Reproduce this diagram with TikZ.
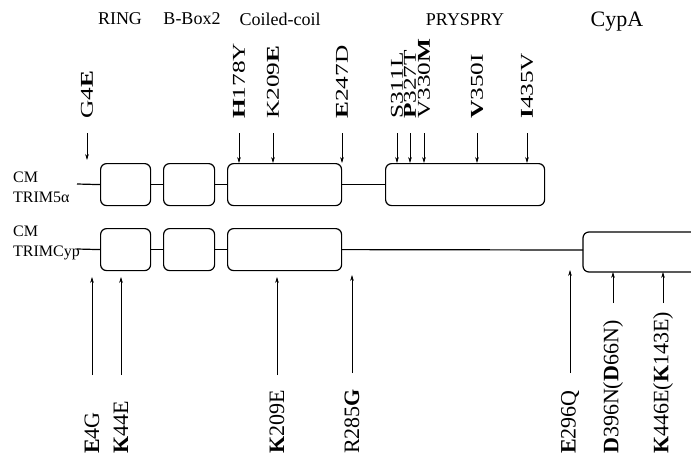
\documentclass[tikz,border=0pt]{standalone}
\usepackage{graphicx}
\usepackage{fontspec}
\setmainfont{Liberation Serif}
\usetikzlibrary{arrows.meta}
\newcommand{\tlab}[1]{\scalebox{1.15}[0.82]{#1}}
\begin{document}
\begin{tikzpicture}[x=1pt,y=-1pt,
  dom/.style={draw, line width=1.2pt, rounded corners=6pt, fill=white, inner sep=0pt, anchor=north west},
  bb/.style={line width=1.2pt},
  arr/.style={line width=0.6pt, -{Stealth[length=6pt,width=3.6pt]}},
  mut/.style={rotate=90, anchor=west, inner sep=0pt, font=\fontsize{22}{24}\selectfont},
  hdr/.style={inner sep=0pt, font=\fontsize{18}{20}\selectfont},
  side/.style={inner sep=0pt, anchor=west, align=left, font=\fontsize{16}{20}\selectfont}
]
\useasboundingbox (0,0) rectangle (691,461);

% headers
\node[hdr] (hring) at (120,19) {RING};
\node[hdr] (hbbox) at (192,19) {B-Box2};
\node[hdr] (hcc) at (280,19) {Coiled-coil};
\node[hdr] (hspry) at (465,20) {PRYSPRY};
\node[hdr, font=\fontsize{22}{24}\selectfont] (hcyp) at (617,22) {CypA};

% side labels
\node[side] (t5lab) at (13,187) {CM\\TRIM5α};
\node[side] (tclab) at (13,243) {CM\\TRIMCyp};

% ---------- TRIM5alpha row ----------
\coordinate (s1) at (77,184);
\node[dom, minimum width=50pt, minimum height=42pt] (r1) at (100,163) {};
\node[dom, minimum width=51pt, minimum height=42pt] (b1) at (163,163) {};
\node[dom, minimum width=114pt, minimum height=42pt] (c1) at (227,163) {};
\node[dom, minimum width=159pt, minimum height=42pt] (p1) at (385,163) {};
\draw[bb] (s1) -- (r1.west);
\draw[bb] (r1.east) -- (b1.west);
\draw[bb] (b1.east) -- (c1.west);
\draw[bb] (c1.east) -- (p1.west);

% top mutations
\node[mut] (m1) at (87,119) {\tlab{G4\textbf{E}}};
\node[mut] (m2) at (239,119) {\tlab{\textbf{H}178Y}};
\node[mut] (m3) at (273,119) {\tlab{K209\textbf{E}}};
\node[mut] (m4) at (342,119) {\tlab{\textbf{E}247D}};
\node[mut] (m5) at (397,119) {\tlab{S311L}};
\node[mut] (m6) at (410,119) {\tlab{\textbf{P}327T}};
\node[mut] (m7) at (424,119) {\tlab{V330\textbf{M}}};
\node[mut] (m8) at (477,119) {\tlab{\textbf{V}350I}};
\node[mut] (m9) at (527,119) {\tlab{\textbf{I}435V}};

\coordinate (e1) at (87,160);
\coordinate (e2) at (239,163);
\coordinate (e3) at (273,163);
\coordinate (e4) at (342,163);
\coordinate (e5) at (397,163);
\coordinate (e6) at (410,163);
\coordinate (e7) at (424,163);
\coordinate (e8) at (477,163);
\coordinate (e9) at (527,163);
\foreach \i in {1,...,9} {
  \draw[arr] (m\i.west) ++(0,14) -- (e\i);
}

% ---------- TRIMCyp row ----------
\coordinate (s2) at (77,249);
\node[dom, minimum width=50pt, minimum height=42pt] (r2) at (100,228) {};
\node[dom, minimum width=51pt, minimum height=42pt] (b2) at (163,228) {};
\node[dom, minimum width=114pt, minimum height=42pt] (c2) at (227,228) {};
\coordinate (cy) at (583,250);
\draw[bb] (s2) -- (r2.west);
\draw[bb] (r2.east) -- (b2.west);
\draw[bb] (b2.east) -- (c2.west);
\draw[bb] (c2.east) -- (cy);
\draw[line width=1.2pt, rounded corners=6pt] (691,232) -- (583,232) -- (583,272) -- (691,272);

% bottom mutations
\node[mut] (n1) at (92,454) {\textbf{E}4G};
\node[mut] (n2) at (121,454) {\textbf{K}44E};
\node[mut] (n3) at (277,454) {\textbf{K}209E};
\node[mut] (n4) at (352,454) {R285\textbf{G}};
\node[mut] (n5) at (570,454) {\textbf{E}296Q};
\node[mut] (n6) at (613,454) {\textbf{D}396N(\textbf{D}66N)};
\node[mut] (n7) at (663,454) {\textbf{K}446E(\textbf{K}143E)};

\coordinate (a1) at (92,375);  \coordinate (f1) at (92,277);
\coordinate (a2) at (121,375); \coordinate (f2) at (121,277);
\coordinate (a3) at (277,375); \coordinate (f3) at (277,277);
\coordinate (a4) at (352,373); \coordinate (f4) at (352,275);
\coordinate (a5) at (570,373); \coordinate (f5) at (570,270);
\coordinate (a6) at (613,303); \coordinate (f6) at (613,272);
\coordinate (a7) at (663,303); \coordinate (f7) at (663,272);
\foreach \i in {1,...,7} {
  \draw[arr] (a\i) -- (f\i);
}
\end{tikzpicture}
\end{document}
